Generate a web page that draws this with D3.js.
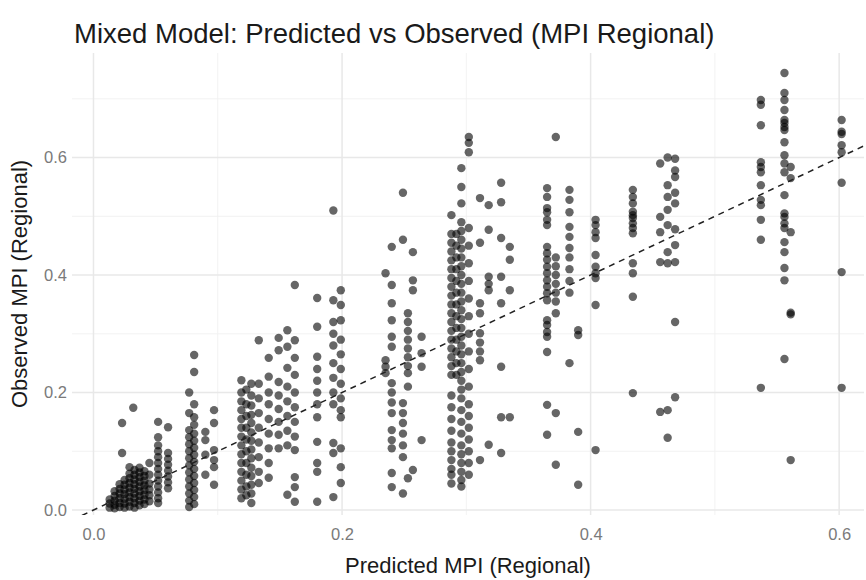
<!DOCTYPE html>
<html><head><meta charset="utf-8">
<script src="https://cdn.jsdelivr.net/npm/d3@7"></script>
<style>body{margin:0;background:#fff}</style>
</head><body><svg id="chart" width="866" height="580"></svg>
<script>
// Predicted MPI level (x) of each vertical cluster, and the observed MPI values (y) read at that level
const predictedLevels = [
  0.013, 0.017, 0.021, 0.023, 0.025, 0.029, 0.032, 0.033, 0.037, 0.041, 0.045,
  0.052, 0.060, 0.077, 0.081, 0.090, 0.097,
  0.119, 0.123, 0.127, 0.133, 0.141, 0.149, 0.156, 0.162, 0.180, 0.193, 0.199,
  0.235, 0.240, 0.249, 0.253, 0.257, 0.264,
  0.288, 0.292, 0.296, 0.302, 0.311, 0.318, 0.328, 0.335,
  0.365, 0.372, 0.383, 0.390, 0.404,
  0.434, 0.456, 0.462, 0.468, 0.537, 0.556, 0.561, 0.602
];
const observedGroups = [
  [0.004,0.011,0.018],
  [0.003,0.009,0.016,0.024,0.032],
  [0.005,0.012,0.02,0.028,0.036,0.044],
  [0.097,0.148],
  [0.004,0.011,0.019,0.027,0.035,0.043,0.051],
  [0.006,0.014,0.022,0.03,0.038,0.046,0.054,0.062,0.073],
  [0.174],
  [0.004,0.012,0.02,0.028,0.036,0.044,0.052,0.06,0.068],
  [0.008,0.016,0.024,0.032,0.04,0.048,0.056,0.064,0.072],
  [0.01,0.018,0.026,0.034,0.042,0.05,0.058,0.066],
  [0.015,0.025,0.035,0.045,0.06,0.08],
  [0.15,0.124,0.11,0.1,0.09,0.08,0.07,0.06,0.05,0.04,0.03,0.02,0.012],
  [0.141,0.097,0.087,0.077,0.067,0.057,0.047,0.037],
  [0.2,0.165,0.136,0.124,0.112,0.1,0.088,0.076,0.064,0.052,0.04,0.028,0.016,0.005],
  [0.264,0.235,0.18,0.158,0.145,0.13,0.118,0.106,0.094,0.082,0.07,0.058,0.046,0.034,0.022,0.01],
  [0.133,0.119,0.094,0.06],
  [0.17,0.148,0.102,0.085,0.073,0.043],
  [0.221,0.2,0.185,0.17,0.155,0.14,0.125,0.11,0.095,0.08,0.065,0.05,0.035,0.02],
  [0.205,0.18,0.16,0.14,0.12,0.1,0.08,0.06,0.04,0.025],
  [0.215,0.195,0.178,0.162,0.148,0.132,0.118,0.103,0.088,0.072,0.058,0.043,0.028,0.012],
  [0.289,0.215,0.19,0.165,0.14,0.115,0.09,0.065,0.046],
  [0.259,0.227,0.2,0.18,0.155,0.13,0.105,0.08,0.055],
  [0.293,0.272,0.218,0.195,0.172,0.15,0.128,0.105],
  [0.306,0.278,0.242,0.21,0.185,0.16,0.135,0.11,0.026],
  [0.383,0.289,0.259,0.23,0.2,0.175,0.15,0.125,0.102,0.056,0.039,0.014],
  [0.361,0.312,0.261,0.24,0.22,0.2,0.18,0.158,0.116,0.08,0.065,0.014],
  [0.51,0.357,0.32,0.3,0.28,0.25,0.225,0.2,0.18,0.114,0.097,0.022],
  [0.374,0.349,0.323,0.29,0.265,0.24,0.215,0.19,0.17,0.158,0.105,0.073,0.046],
  [0.403,0.255,0.244,0.233],
  [0.448,0.383,0.352,0.323,0.295,0.278,0.216,0.2,0.183,0.165,0.136,0.119,0.105,0.063,0.039],
  [0.54,0.46,0.182,0.165,0.148,0.13,0.11,0.09,0.028],
  [0.335,0.32,0.305,0.29,0.275,0.26,0.245,0.233,0.21,0.054],
  [0.439,0.391,0.374,0.068],
  [0.295,0.267,0.244,0.119],
  [0.502,0.47,0.455,0.44,0.425,0.41,0.395,0.38,0.365,0.35,0.335,0.32,0.305,0.29,0.275,0.26,0.245,0.23,0.195,0.175,0.155,0.135,0.115,0.1,0.085,0.07,0.06,0.045],
  [0.47,0.45,0.43,0.41,0.39,0.37,0.35,0.33,0.31,0.29,0.27,0.25,0.23],
  [0.582,0.55,0.522,0.49,0.475,0.46,0.445,0.43,0.415,0.4,0.385,0.37,0.355,0.34,0.325,0.31,0.295,0.28,0.265,0.25,0.235,0.22,0.205,0.19,0.17,0.15,0.13,0.11,0.095,0.08,0.065,0.051,0.04],
  [0.635,0.625,0.609,0.48,0.45,0.42,0.39,0.36,0.33,0.3,0.27,0.24,0.21,0.18,0.16,0.14,0.12,0.1,0.08,0.06],
  [0.531,0.455,0.352,0.335,0.301,0.285,0.27,0.255,0.085],
  [0.519,0.477,0.397,0.385,0.374,0.111],
  [0.557,0.524,0.463,0.397,0.352,0.244,0.158,0.097],
  [0.448,0.426,0.374,0.158],
  [0.548,0.533,0.514,0.507,0.494,0.485,0.448,0.437,0.426,0.414,0.403,0.391,0.38,0.369,0.357,0.323,0.315,0.303,0.295,0.269,0.179,0.128],
  [0.635,0.43,0.415,0.4,0.385,0.37,0.355,0.335,0.165,0.077],
  [0.545,0.528,0.507,0.482,0.465,0.446,0.43,0.41,0.39,0.37,0.25],
  [0.306,0.298,0.133,0.043],
  [0.494,0.485,0.473,0.463,0.434,0.414,0.403,0.395,0.349,0.102],
  [0.545,0.533,0.522,0.508,0.502,0.497,0.488,0.48,0.471,0.42,0.403,0.363,0.199],
  [0.59,0.499,0.473,0.422,0.167],
  [0.6,0.553,0.533,0.511,0.485,0.439,0.42,0.17,0.123],
  [0.598,0.578,0.567,0.54,0.522,0.478,0.451,0.422,0.32,0.192],
  [0.698,0.69,0.655,0.592,0.584,0.575,0.553,0.528,0.519,0.494,0.46,0.208],
  [0.744,0.71,0.698,0.681,0.664,0.659,0.652,0.647,0.626,0.604,0.59,0.575,0.536,0.505,0.499,0.488,0.48,0.456,0.439,0.412,0.391,0.257],
  [0.584,0.565,0.473,0.336,0.333,0.085],
  [0.664,0.644,0.64,0.621,0.609,0.557,0.405,0.208]
];
const xMajorTicks = [0, 0.2, 0.4, 0.6];
const xMinorTicks = [0.1, 0.3, 0.5];
const yMajorTicks = [0, 0.2, 0.4, 0.6];
const yMinorTicks = [0.1, 0.3, 0.5, 0.7];
const titleText = "Mixed Model: Predicted vs Observed (MPI Regional)";
const xTitle = "Predicted MPI (Regional)";
const yTitle = "Observed MPI (Regional)";

const points = [];
predictedLevels.forEach((p, i) => observedGroups[i].forEach(o => points.push({p, o})));

const font = "'Liberation Sans', Arial, Helvetica, sans-serif";
const panel = {left: 72, right: 864, top: 53, bottom: 515};
const x = d3.scaleLinear().domain([-0.0173, 0.62]).range([panel.left, panel.right]);
const y = d3.scaleLinear().domain([-0.0085, 0.778]).range([panel.bottom, panel.top]);

const svg = d3.select("#chart");
svg.append("rect").attr("width", 866).attr("height", 580).attr("fill", "#fff");

svg.append("defs").append("clipPath").attr("id", "clip")
  .append("rect").attr("x", panel.left).attr("y", panel.top)
  .attr("width", panel.right - panel.left).attr("height", panel.bottom - panel.top);

const grid = svg.append("g");
grid.selectAll(".xminor").data(xMinorTicks).join("line")
  .attr("x1", d => x(d)).attr("x2", d => x(d)).attr("y1", panel.top).attr("y2", panel.bottom)
  .attr("stroke", "#f1f1f1").attr("stroke-width", 0.9);
grid.selectAll(".yminor").data(yMinorTicks).join("line")
  .attr("y1", d => y(d)).attr("y2", d => y(d)).attr("x1", panel.left).attr("x2", panel.right)
  .attr("stroke", "#f1f1f1").attr("stroke-width", 0.9);
grid.selectAll(".xmajor").data(xMajorTicks).join("line")
  .attr("x1", d => x(d)).attr("x2", d => x(d)).attr("y1", panel.top).attr("y2", panel.bottom)
  .attr("stroke", "#e8e8e8").attr("stroke-width", 1.5);
grid.selectAll(".ymajor").data(yMajorTicks).join("line")
  .attr("y1", d => y(d)).attr("y2", d => y(d)).attr("x1", panel.left).attr("x2", panel.right)
  .attr("stroke", "#e8e8e8").attr("stroke-width", 1.5);

const plot = svg.append("g").attr("clip-path", "url(#clip)");
plot.selectAll("circle").data(points).join("circle")
  .attr("cx", d => x(d.p)).attr("cy", d => y(d.o)).attr("r", 4.2)
  .attr("fill", "#000").attr("fill-opacity", 0.6);

const lineDomain = x.domain();
plot.append("line")
  .attr("x1", x(lineDomain[0])).attr("y1", y(lineDomain[0]))
  .attr("x2", x(lineDomain[1])).attr("y2", y(lineDomain[1]))
  .attr("stroke", "#222").attr("stroke-width", 1.5).attr("stroke-dasharray", "6,5");

// axes (no domain lines / tick marks, theme_minimal style)
const fmt = d3.format(".1f");
const xAxis = svg.append("g").attr("transform", `translate(0,${panel.bottom})`)
  .call(d3.axisBottom(x).tickValues(xMajorTicks).tickFormat(fmt).tickSize(0).tickPadding(13));
const yAxis = svg.append("g").attr("transform", `translate(${panel.left},0)`)
  .call(d3.axisLeft(y).tickValues(yMajorTicks).tickFormat(fmt).tickSize(0).tickPadding(5));
[xAxis, yAxis].forEach(a => {
  a.select(".domain").remove();
  a.selectAll("text").attr("fill", "#7a7a7a").style("font-family", font).style("font-size", "16.5px");
});

svg.append("text").attr("x", 74).attr("y", 43).text(titleText)
  .attr("fill", "#1a1a1a").style("font-family", font).style("font-size", "27.5px");
svg.append("text").attr("x", (panel.left + panel.right) / 2).attr("y", 573)
  .attr("text-anchor", "middle").text(xTitle)
  .attr("fill", "#1a1a1a").style("font-family", font).style("font-size", "22px");
svg.append("text")
  .attr("transform", `translate(27,${(panel.top + panel.bottom) / 2}) rotate(-90)`)
  .attr("text-anchor", "middle").text(yTitle)
  .attr("fill", "#1a1a1a").style("font-family", font).style("font-size", "22px");
</script>
</body></html>
